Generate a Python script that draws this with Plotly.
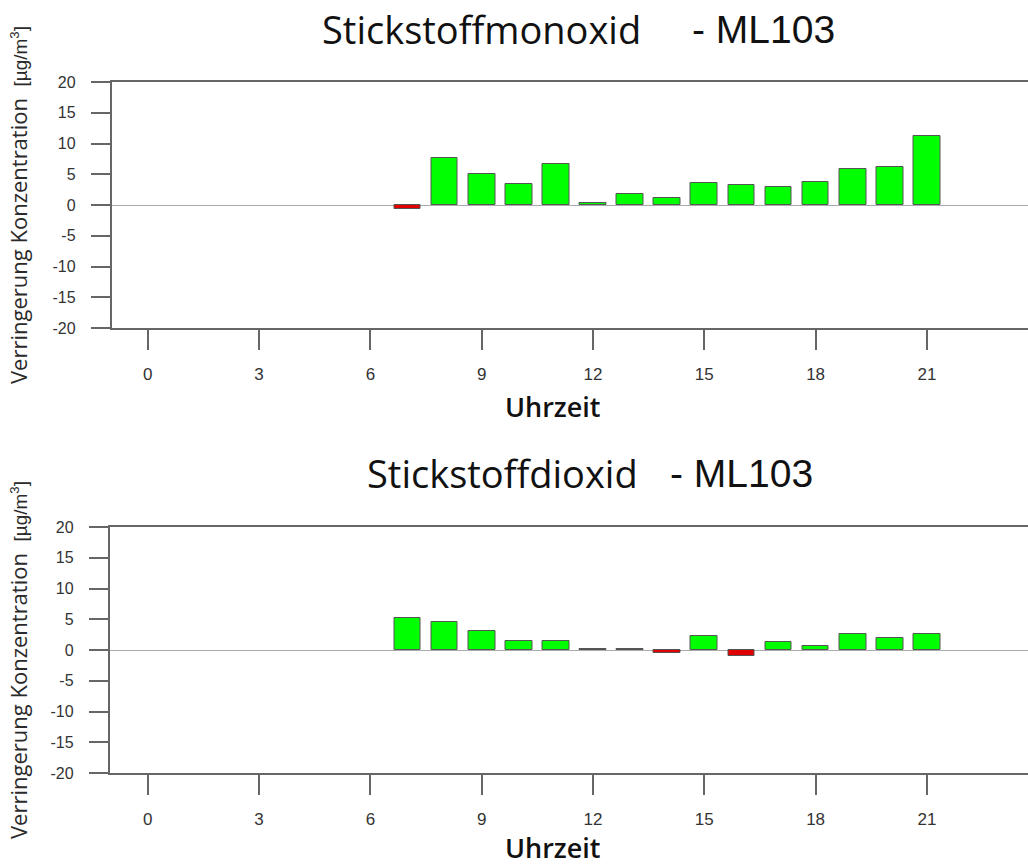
import plotly.graph_objects as go

# ---- data ----
hours = [7, 8, 9, 10, 11, 12, 13, 14, 15, 16, 17, 18, 19, 20, 21]
no_values = [-0.6, 7.7, 5.0, 3.35, 6.7, 0.35, 1.85, 1.2, 3.6, 3.2, 3.0, 3.75, 5.85, 6.1, 11.15]
no2_values = [5.2, 4.6, 3.15, 1.45, 1.45, 0.15, 0.15, -0.45, 2.3, -0.95, 1.3, 0.7, 2.65, 2.0, 2.65]
x_ticks = [0, 3, 6, 9, 12, 15, 18, 21]
y_ticks = [-20, -15, -10, -5, 0, 5, 10, 15, 20]
titles = ["Stickstoffmonoxid", "Stickstoffdioxid"]
station = "- ML103"
x_title = "Uhrzeit"
y_title = "Verringerung Konzentration"
y_unit = "[µg/m<sup>3</sup>]"

W, H = 1028, 867
GREEN = "#00ff00"
RED = "#e00000"
AX = "#666666"
TXT = "#333333"

def colors(vals):
    return [GREEN if v >= 0 else RED for v in vals]

fig = go.Figure()
fig.add_trace(go.Bar(x=hours, y=no_values, width=0.72, marker=dict(color=colors(no_values), line=dict(color="#555555", width=1)),
                     xaxis="x", yaxis="y", showlegend=False))
fig.add_trace(go.Bar(x=hours, y=no2_values, width=0.72, marker=dict(color=colors(no2_values), line=dict(color="#555555", width=1)),
                     xaxis="x2", yaxis="y2", showlegend=False))

def px_y(p):
    return 1 - p / H

def xaxis_cfg(left_px, anchor):
    zero_px = 147.8
    per = 37.1
    return dict(
        domain=[left_px / W, 1], anchor=anchor, automargin=False,
        range=[(left_px - zero_px) / per, (W - zero_px) / per],
        tickmode="array", tickvals=x_ticks, ticktext=[str(t) for t in x_ticks],
        ticks="outside", ticklen=20, tickwidth=1.5, tickcolor=AX,
        showline=True, linecolor=AX, linewidth=1.5, mirror=True,
        showgrid=False, zeroline=False,
        tickfont=dict(family="Liberation Sans, Arial", size=17, color=TXT),
        ticklabelstandoff=10,
    )

def yaxis_cfg(top_px, bot_px, anchor):
    return dict(
        domain=[px_y(bot_px), px_y(top_px)], anchor=anchor, automargin=False,
        range=[-20, 20], tickmode="array", tickvals=y_ticks, ticktext=[str(v) for v in y_ticks],
        ticks="outside", ticklen=19, tickwidth=1.5, tickcolor=AX,
        showline=True, linecolor=AX, linewidth=1.5, mirror=False,
        showgrid=False, zeroline=True, zerolinecolor="#aaaaaa", zerolinewidth=1,
        tickfont=dict(family="Liberation Sans, Arial", size=16, color=TXT),
        ticklabelstandoff=12,
    )

fig.update_layout(
    width=W, height=H,
    margin=dict(l=0, r=0, t=0, b=0, pad=0),
    paper_bgcolor="white", plot_bgcolor="white",
    bargap=0,
    xaxis=xaxis_cfg(111.5, "y"),
    yaxis=yaxis_cfg(82, 328, "x"),
    xaxis2=xaxis_cfg(109.5, "y2"),
    yaxis2=yaxis_cfg(527, 773, "x2"),
)

ann = []
title_font = dict(family="Open Sans, Noto Sans", size=38, color="#111111")
st_font = dict(family="Liberation Sans, Arial", size=39, color="#111111")
# titles
for name, right_px, st_left, cy in [(titles[0], 643, 690, 29), (titles[1], 640, 668, 473)]:
    ann.append(dict(text=name, x=right_px / W, y=px_y(cy), xref="paper", yref="paper",
                    xanchor="right", yanchor="middle", showarrow=False, font=title_font))
    ann.append(dict(text=station, x=st_left / W, y=px_y(cy), xref="paper", yref="paper",
                    xanchor="left", yanchor="middle", showarrow=False, font=st_font))
# x titles
xt_font = dict(family="Open Sans, Noto Sans", size=27, color="#111111", weight=600)
ann.append(dict(text=x_title, x=553 / W, y=px_y(407), xref="paper", yref="paper",
                xanchor="center", yanchor="middle", showarrow=False, font=xt_font))
ann.append(dict(text=x_title, x=553 / W, y=0, xref="paper", yref="paper", borderpad=0,
                xanchor="center", yanchor="bottom", showarrow=False, font=xt_font))
# y titles
for cy in [205, 660]:
    ann.append(dict(text=(y_title + "  <span style='font-family:Liberation Sans, Arial;font-size:19px'>"
                          + y_unit + "</span>"),
                    x=18 / W, y=px_y(cy), xref="paper", yref="paper",
                    xanchor="center", yanchor="middle", showarrow=False, textangle=-90,
                    font=dict(family="Open Sans, Noto Sans", size=22, color="#2a2a2a")))
fig.update_layout(annotations=ann)

fig.write_html("out.html", config={"displayModeBar": False},
               post_script="document.body.style.margin='0px';")
